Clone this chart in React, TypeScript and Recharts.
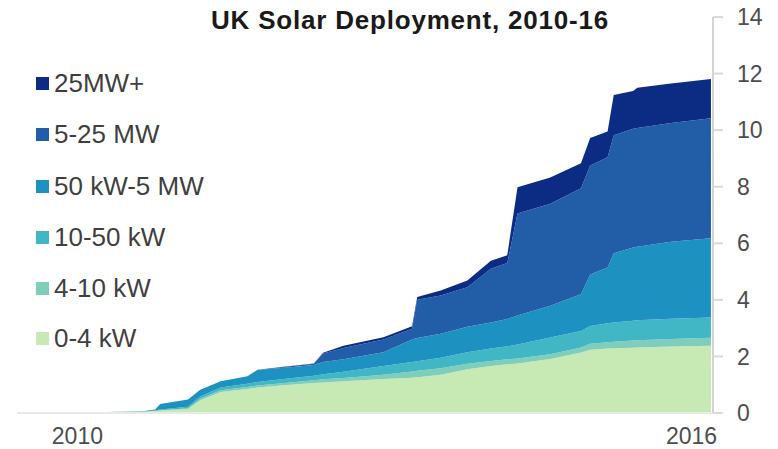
import { AreaChart, Area, XAxis, YAxis } from "recharts";

// time axis (decimal years) and series values in GW
const dates = [
  2009.41, 2010.22, 2010.65, 2010.76, 2010.81, 2011.08, 2011.2, 2011.4, 2011.66, 2011.76,
  2012.08, 2012.31, 2012.4, 2012.6, 2012.99, 2013.27, 2013.32, 2013.55, 2013.81, 2014.04,
  2014.2, 2014.3, 2014.62, 2014.92, 2015.01, 2015.18, 2015.24, 2015.43, 2015.47, 2015.8,
  2016.19,
];
const kw0to4 = [
  0.02, 0.03, 0.05, 0.07, 0.09, 0.14, 0.45, 0.74, 0.85, 0.9,
  1.0, 1.06, 1.08, 1.12, 1.2, 1.25, 1.26, 1.35, 1.55, 1.66,
  1.72, 1.75, 1.91, 2.14, 2.24, 2.28, 2.29, 2.31, 2.32, 2.35,
  2.38,
];
const kw4to10 = [
  0, 0, 0, 0.01, 0.01, 0.03, 0.05, 0.06, 0.07, 0.07,
  0.08, 0.1, 0.11, 0.12, 0.15, 0.22, 0.23, 0.23, 0.19, 0.18,
  0.18, 0.18, 0.17, 0.18, 0.21, 0.22, 0.23, 0.25, 0.25, 0.27,
  0.28,
];
const kw10to50 = [
  0, 0, 0.01, 0.01, 0.02, 0.05, 0.08, 0.1, 0.11, 0.13,
  0.15, 0.16, 0.18, 0.22, 0.31, 0.33, 0.34, 0.37, 0.41, 0.44,
  0.46, 0.49, 0.59, 0.58, 0.63, 0.67, 0.68, 0.7, 0.71, 0.71,
  0.72,
];
const kw50to5mw = [
  0, 0, 0.01, 0.03, 0.2, 0.26, 0.24, 0.22, 0.27, 0.42,
  0.39, 0.38, 0.43, 0.44, 0.49, 0.8, 0.82, 0.85, 0.9, 0.92,
  0.96, 1.03, 1.12, 1.3, 1.82, 1.97, 2.45, 2.59, 2.6, 2.72,
  2.8,
];
const mw5to25 = [
  0, 0, 0, 0, 0, 0, 0, 0, 0, 0.01,
  0.03, 0.04, 0.3, 0.4, 0.45, 0.38, 1.35, 1.35, 1.4, 1.9,
  1.98, 3.6, 3.61, 3.75, 3.85, 3.9, 4.17, 4.2, 4.2, 4.2,
  4.24,
];
const mw25plus = [
  0, 0, 0, 0, 0, 0, 0, 0, 0, 0,
  0.01, 0.01, 0.03, 0.08, 0.08, 0.09, 0.1, 0.18, 0.23, 0.28,
  0.28, 0.93, 0.93, 0.88, 0.97, 0.91, 1.42, 1.33, 1.42, 1.4,
  1.39,
];

const yTicks = [0, 2, 4, 6, 8, 10, 12, 14];
const xTicks = [2010, 2016];

const series = [
  { key: "s04", name: "0-4 kW", color: "#c7e9b4", values: kw0to4 },
  { key: "s410", name: "4-10 kW", color: "#7fcdbb", values: kw4to10 },
  { key: "s1050", name: "10-50 kW", color: "#41b6c4", values: kw10to50 },
  { key: "s50k", name: "50 kW-5 MW", color: "#1d91c0", values: kw50to5mw },
  { key: "s525", name: "5-25 MW", color: "#225ea8", values: mw5to25 },
  { key: "s25", name: "25MW+", color: "#0c2c84", values: mw25plus },
];

const data = dates.map((t, i) => {
  const row: Record<string, number> = { t };
  series.forEach((s) => (row[s.key] = s.values[i]));
  return row;
});

const font = "'Liberation Sans', Arial, sans-serif";
const legendTops = [76, 127, 179, 230, 281, 331];

export default function App() {
  const legendItems = [...series].reverse();
  return (
    <div
      style={{
        position: "absolute",
        left: 0,
        top: 0,
        width: 778,
        height: 449,
        background: "#fff",
        fontFamily: font,
      }}
    >
      <AreaChart
        width={778}
        height={449}
        data={data}
        margin={{ top: 17, right: 0, left: 17, bottom: 0 }}
      >
        <XAxis
          dataKey="t"
          type="number"
          domain={[2009.41, 2016.21]}
          ticks={xTicks}
          height={36}
          tickLine={false}
          tickSize={0}
          tickMargin={15}
          axisLine={{ stroke: "#e6ebe6", strokeWidth: 2 }}
          tick={{ fill: "#4d4d4d", fontSize: 23, fontFamily: font }}
        />
        <YAxis
          orientation="right"
          width={65}
          domain={[0, 14]}
          ticks={yTicks}
          tickSize={10}
          tickMargin={14}
          axisLine={{ stroke: "#d3d3d3", strokeWidth: 2 }}
          tickLine={{ stroke: "#d9d9d9", strokeWidth: 2 }}
          tick={{ fill: "#4d4d4d", fontSize: 23, fontFamily: font, textAnchor: "start" }}
        />
        {series.map((s) => (
          <Area
            key={s.key}
            dataKey={s.key}
            name={s.name}
            stackId="1"
            type="linear"
            stroke="none"
            fill={s.color}
            fillOpacity={1}
            isAnimationActive={false}
          />
        ))}
      </AreaChart>
      <div
        style={{
          position: "absolute",
          left: 0,
          width: 820,
          top: 5,
          textAlign: "center",
          fontSize: 26,
          fontWeight: "bold",
          letterSpacing: 0.8,
          color: "#1a1a1a",
          lineHeight: "30px",
        }}
      >
        UK Solar Deployment, 2010-16
      </div>
      {legendItems.map((s, i) => (
        <div
          key={s.key}
          style={{
            position: "absolute",
            left: 36,
            top: legendTops[i],
            display: "flex",
            alignItems: "center",
            height: 14,
            fontSize: 26,
            color: "#3f3f3f",
          }}
        >
          <span
            style={{
              width: 13,
              height: 13,
              background: s.color,
              display: "inline-block",
              marginRight: 5,
            }}
          />
          <span style={{ lineHeight: "14px" }}>{s.name}</span>
        </div>
      ))}
    </div>
  );
}
